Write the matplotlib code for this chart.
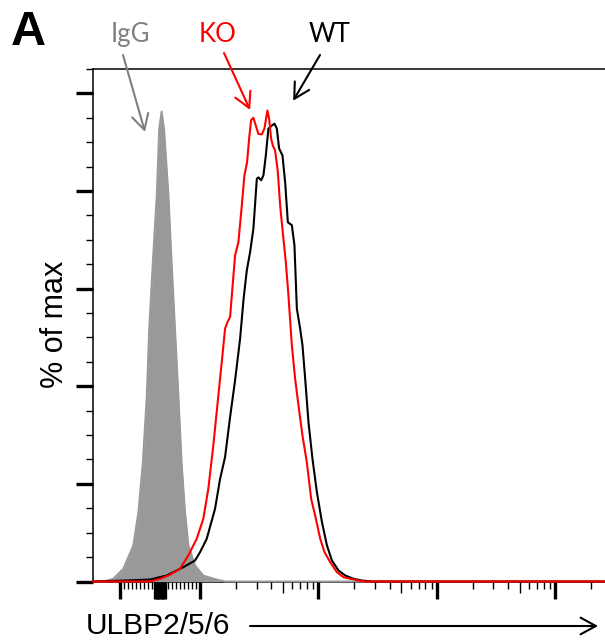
import matplotlib
matplotlib.use('Agg')
import matplotlib.pyplot as plt
from matplotlib.ticker import FixedLocator, NullFormatter

# ---------------- data (fluorescence, % of max) ----------------
igg_x = [-169, -138, -114, -91.7, -66.7, -54, -43, -33, -27, -18, -8, -2, 4,
         10, 21, 29, 37.5, 46, 54, 62.5, 71, 87.5, 106.6, 138, 163, 262143]
igg_y = [0, 0, 0.55, 2.6, 7.4, 14.2, 24.4, 38.1, 51.8, 65.4, 79.3, 92.8, 96.3,
         92.8, 79.3, 65.4, 51.8, 38.1, 24.4, 14.2, 7.4, 3.3, 1.2, 0.4, 0, 0]

ko_x = [-169, -25, 0, 25, 50, 70.75, 91.75, 106.6, 117.5, 129.5, 142.8, 152.5,
        162.7, 171.5, 179.4, 187.5, 197.6, 210.8, 225.2, 237.0, 249.6, 259.6,
        269.9, 282.2, 295.7, 311.1, 332.4, 349.6, 370.7, 383.2, 398.4, 411.8,
        430.5, 453.8, 474.6, 506.0, 530.2, 557.7, 595.8, 635.3, 677.6, 732.5,
        797.6, 867.5, 937.9, 1034, 1124, 1256, 1431, 1627, 1854, 2178, 2482,
        262143]
ko_y = [0, 0, 0.55, 1.37, 2.6, 5.33, 8.75, 12.85, 19.0, 27.9, 38.1, 44.9,
        51.8, 53.3, 54.2, 60.0, 66.8, 69.5, 77.0, 83.2, 85.9, 90.7,
        94.5, 95.0, 93.4, 91.7, 91.6, 92.8, 96.5, 94.8, 90.7, 89.3,
        88.3, 83.9, 77.0, 70.2, 65.4, 58.6, 48.4, 41.5, 36.1, 29.9,
        24.4, 16.9, 13.5, 8.75, 6.0, 3.95, 1.9, 0.88, 0.55, 0.2, 0,
        0]

wt_x = [-169, -87.5, -25, 16.75, 58.25, 87.5, 100, 113.9, 133.9, 147.6, 162.7,
        179.4, 197.6, 217.8, 233.2, 248.1, 264.7, 282.2, 301.6, 311.1, 327.9,
        342.9, 359.3, 377.9, 403.7, 424.7, 445.0, 465.4, 496.4, 523.1, 551.2,
        595.8, 626.6, 656.7, 700.1, 732.5, 772.2, 823.5, 890.0, 969.4, 1069,
        1178, 1298, 1476, 1682, 1977, 2328, 2828, 262143]
wt_y = [0, 0.2, 0.4, 1.23, 2.93, 4.3, 6.0, 8.75, 14.9, 21.0, 25.5,
        33.7, 41.2, 49.7, 57.9, 63.7, 67.5, 72.3, 82.5, 82.8, 82.2,
        83.2, 87.3, 92.8, 93.4, 93.8, 92.8, 88.7, 87.3, 81.8, 73.6,
        73.0, 68.9, 55.9, 51.8, 48.4, 41.5, 32.6, 25.1, 18.3, 12.2,
        7.4, 4.3, 2.25, 1.23, 0.55, 0.2, 0, 0]

x_limits = [-169, 262143]
y_limits = [0, 105]
x_major = [-100, -12, -8, -4, 0, 4, 8, 12, 100, 1000, 10000, 100000]
x_minor = ([-90, -80, -70, -60, -50, -40, -30, -20, 20, 30, 40, 50, 60, 70, 80, 90]
           + [200, 300, 400, 600, 700, 800, 900]
           + [2000, 3000, 4000, 6000, 7000, 8000, 9000]
           + [20000, 30000, 40000, 60000, 70000, 80000, 90000]
           + [200000])
x_mid = [500, 5000, 50000]
y_major = [0, 20, 40, 60, 80, 100]
y_minor = [5, 10, 15, 25, 30, 35, 45, 50, 55, 65, 70, 75, 85, 90, 95, 105]

# ---------------- figure ----------------
W, H = 605, 642
fig = plt.figure(figsize=(W / 100, H / 100), dpi=100)
pos = [93 / W, 1 - 581.5 / H, 1 - 93 / W, (581.5 - 69) / H]
ax = fig.add_axes(pos)

scale_kw = dict(linthresh=100, linscale=0.304)
ax.set_xscale('symlog', **scale_kw)
ax.set_xlim(*x_limits)
ax.set_ylim(*y_limits)

gray = '#999999'
ax.fill_between(igg_x, igg_y, 0, color=gray, lw=0, zorder=1)
ax.plot(igg_x, igg_y, color=gray, lw=1.4, zorder=1.5, clip_on=False)
ax.plot(wt_x, wt_y, color='black', lw=1.5, zorder=3, clip_on=False)
ax.plot(ko_x, ko_y, color='#ff0000', lw=1.5, zorder=4, clip_on=False)

ax.spines['right'].set_visible(False)
for s in ['left', 'top', 'bottom']:
    ax.spines[s].set_linewidth(1.1)
ax.spines['bottom'].set_zorder(0.5)

ax.xaxis.set_major_locator(FixedLocator(x_major))
ax.xaxis.set_minor_locator(FixedLocator(x_minor))
ax.xaxis.set_major_formatter(NullFormatter())
ax.xaxis.set_minor_formatter(NullFormatter())
ax.yaxis.set_major_locator(FixedLocator(y_major))
ax.yaxis.set_minor_locator(FixedLocator(y_minor))
ax.yaxis.set_major_formatter(NullFormatter())
ax.yaxis.set_minor_formatter(NullFormatter())
ax.tick_params(axis='both', which='major', direction='out', length=12, width=2.4,
               top=False, right=False)
ax.tick_params(axis='both', which='minor', direction='out', length=5.2, width=1.0,
               top=False, right=False)

# medium ticks at 5x decades (overlay axes with the same scale)
axm = fig.add_axes(pos)
axm.set_xscale('symlog', **scale_kw)
axm.set_xlim(*x_limits)
axm.patch.set_visible(False)
for s in axm.spines.values():
    s.set_visible(False)
axm.set_yticks([])
axm.xaxis.set_major_locator(FixedLocator(x_mid))
axm.xaxis.set_minor_locator(FixedLocator([]))
axm.xaxis.set_major_formatter(NullFormatter())
axm.tick_params(axis='x', which='major', direction='out', length=8, width=1.0)

# ---------------- text ----------------
arial = ['Liberation Sans', 'DejaVu Sans']
calib = ['Lato', 'DejaVu Sans']

fig.text(11 / W, 1 - 45 / H, 'A', fontsize=35, fontweight='bold',
         family=arial, ha='left', va='baseline')
fig.text(55 / W, 1 - 324 / H, '% of max', fontsize=22, family=arial,
         rotation=90, ha='center', va='center')
fig.text(86 / W, 1 - 634 / H, 'ULBP2/5/6', fontsize=21.5, family=arial,
         ha='left', va='baseline')
ax.annotate('', xy=(598, H - 626), xycoords='figure pixels',
            xytext=(250, H - 626), textcoords='figure pixels',
            arrowprops=dict(arrowstyle='->,head_length=1.1,head_width=0.6',
                            mutation_scale=10, lw=1.5, color='black',
                            shrinkA=0, shrinkB=0),
            annotation_clip=False)

labels = [('IgG', '#808080', 130, (123, 55), (-37.5, 92.1)),
          ('KO', '#ff0000', 218, (224, 53), (264.7, 96.6)),
          ('WT', 'black', 330, (320, 55), (611, 98.5))]
for txt, col, cx, start, tip in labels:
    fig.text(cx / W, 1 - 42 / H, txt, fontsize=18.5, family=calib, color=col,
             ha='center', va='baseline')
    ax.annotate('', xy=tip, xycoords='data',
                xytext=(start[0], H - start[1]), textcoords='figure pixels',
                arrowprops=dict(arrowstyle='->,head_length=1.1,head_width=0.6',
                                mutation_scale=10, lw=1.5, color=col,
                                shrinkA=0, shrinkB=0),
                annotation_clip=False)

fig.savefig('out.png', dpi=100)
